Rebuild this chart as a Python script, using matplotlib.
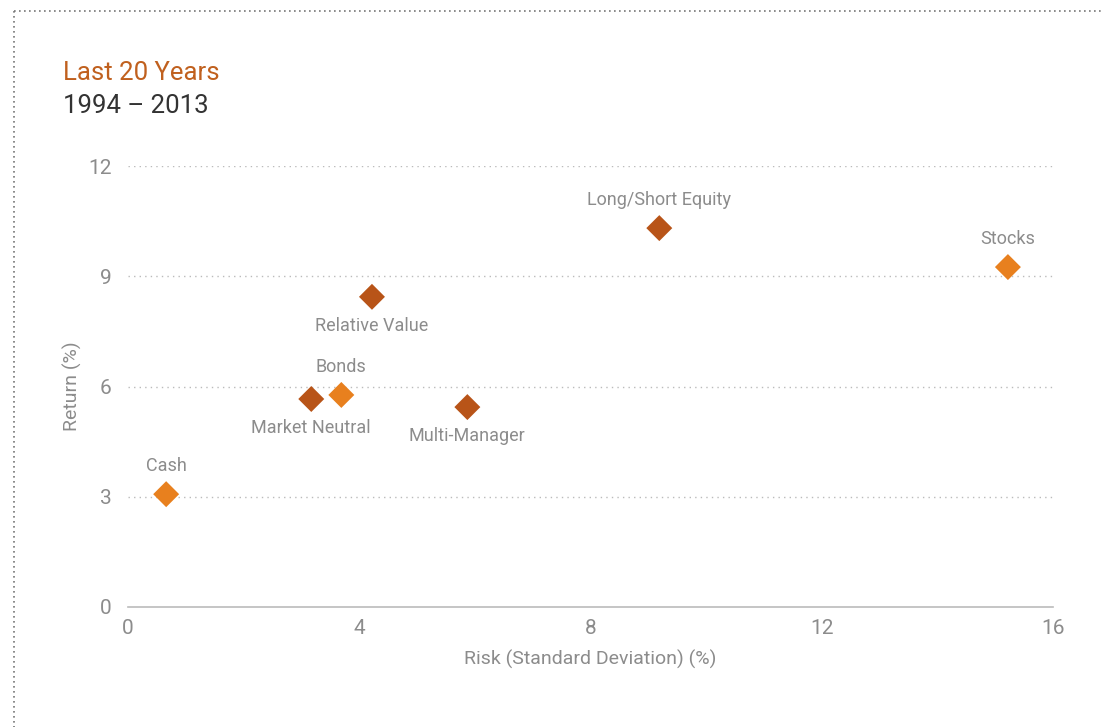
import matplotlib
matplotlib.use("Agg")
import matplotlib.pyplot as plt
from matplotlib.lines import Line2D

plt.rcParams['font.family'] = ['Roboto', 'DejaVu Sans']

names = ["Cash", "Market Neutral", "Bonds", "Relative Value", "Multi-Manager", "Long/Short Equity", "Stocks"]
risk = [0.66, 3.17, 3.69, 4.22, 5.87, 9.19, 15.22]
ret = [3.07, 5.66, 5.77, 8.44, 5.44, 10.31, 9.25]
kind = ["trad", "hedge", "trad", "hedge", "hedge", "hedge", "trad"]
label_pos = ["above", "below", "above", "below", "below", "above", "above"]
xticks = [0, 4, 8, 12, 16]
yticks = [0, 3, 6, 9, 12]

colors = {"trad": "#E8801E", "hedge": "#B85418"}
gray = "#8C8C8C"

fig = plt.figure(figsize=(11.04, 7.27), dpi=100)
ax = fig.add_axes([128/1104, 1-607/727, (1053-128)/1104, (607-166)/727])

for x, y, k in zip(risk, ret, kind):
    ax.scatter([x], [y], marker='D', s=175, color=colors[k], edgecolor='none', zorder=3, clip_on=False)

for n, x, y, p in zip(names, risk, ret, label_pos):
    off = 20 if p == "above" else -21
    ax.annotate(n, (x, y), xytext=(0, off), textcoords='offset points',
                ha='center', va='center', fontsize=13, color=gray)

ax.set_xlim(0, 16)
ax.set_ylim(0, 12)
ax.set_xticks(xticks)
ax.set_yticks(yticks)
ax.tick_params(length=0, labelsize=15, colors=gray)
ax.tick_params(axis='x', pad=9)
ax.tick_params(axis='y', pad=12)
for s in ['top', 'right', 'left']:
    ax.spines[s].set_visible(False)
ax.spines['bottom'].set_color('#BBBBBB')
ax.spines['bottom'].set_linewidth(1.2)
for yv in yticks[1:]:
    ax.axhline(yv, color='#BBBBBB', linestyle=(0, (1, 3)), linewidth=1.0, zorder=1)

ax.set_xlabel("Risk (Standard Deviation) (%)", fontsize=14, color=gray, labelpad=8)
ax.set_ylabel("Return (%)", fontsize=14, color=gray, labelpad=4)

fig.text(63/1104, 1-73/727, "Last 20 Years", fontsize=18.5, color="#C0601E", ha='left', va='center')
fig.text(63/1104, 1-106/727, "1994 \u2013 2013", fontsize=18.5, color="#333333", ha='left', va='center')

# outer dotted frame
fig.add_artist(Line2D([14/1104, 1.0], [1-11/727, 1-11/727], transform=fig.transFigure,
                      color='#777777', linestyle=(0, (1, 2)), linewidth=1.2))
fig.add_artist(Line2D([14/1104, 14/1104], [1-11/727, 0], transform=fig.transFigure,
                      color='#777777', linestyle=(0, (1, 2)), linewidth=1.2))

fig.savefig("out.png", dpi=100)
